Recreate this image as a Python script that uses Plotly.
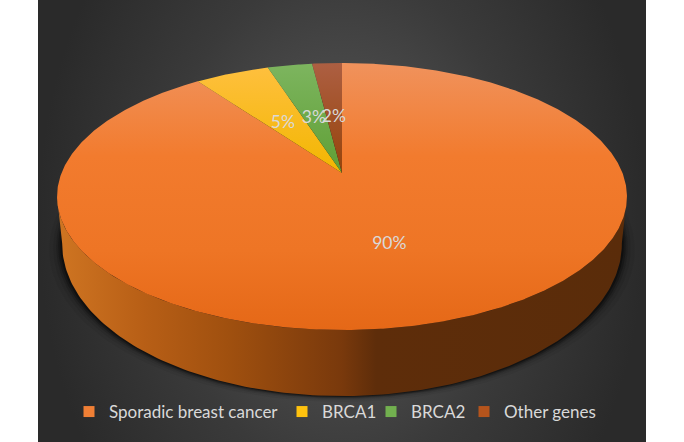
import numpy as np
import plotly.graph_objects as go

categories = ["Sporadic breast cancer", "BRCA1", "BRCA2", "Other genes"]
values = [90, 5, 3, 2]
legend_colors = ["#F07F35", "#FFC20E", "#72B04F", "#B5541C"]
gradient_top = ["#F0925C", "#FFC040", "#7DB55F", "#AD5F42"]
gradient_bottom = ["#E56817", "#F2B600", "#5F9F35", "#96430A"]
label_color = "#D9D9D9"

# perspective projection of the pie disc onto the page (pixel-like axes)
CX, APEX_Y = 342.0, 173.0
A, B, K = 280.5, 129.4, 0.176
LOWER_SX, LOWER_SY, LOWER_DY = 0.982, 1.139, 44.2
LABEL_DY = 4


def project(theta, r=1.0, lower=False):
    u = r * np.sin(theta)
    v = r * np.cos(theta)
    d = 1 + K * v
    x = A * u / d
    y = -B * v / d
    if lower:
        x, y = x * LOWER_SX, y * LOWER_SY + LOWER_DY
    return CX + x, APEX_Y + y


def grad(kind, stops, start=None, stop=None):
    g = dict(type=kind, colorscale=stops)
    if start is not None:
        g.update(start=start, stop=stop)
    return g


fig = go.Figure()

# chart background (taller than the page so the top and bottom stay lighter; clipped by the axes)
fig.add_trace(go.Scatter(
    x=[38, 646, 646, 38, 38], y=[-200, -200, 642, 642, -200], mode="lines", line_width=0,
    fill="toself",
    fillgradient=grad("radial", [[0, "#5C5C5C"], [.6, "#3A3A3A"], [1, "#2A2A2A"]]),
    showlegend=False, hoverinfo="skip"))

# soft shadow under the disc
theta_all = np.linspace(0, 2 * np.pi, 361)
for grow, alpha in [(13, .05), (9, .08), (6, .14), (4, .24), (2, .36)]:
    sx, sy = project(theta_all, lower=True)
    fig.add_trace(go.Scatter(
        x=CX + (sx - CX) * (1 + grow / 280), y=sy + grow * .45, mode="lines", line_width=0,
        fill="toself", fillcolor=f"rgba(0,0,0,{alpha})", showlegend=False, hoverinfo="skip"))

# side wall (only the front of the first slice is visible)
front = np.radians(np.linspace(100, 260, 161))
tx, ty = project(front)
bx, by = project(front, lower=True)
fig.add_trace(go.Scatter(
    x=np.r_[tx, bx[::-1], tx[0]], y=np.r_[ty, by[::-1], ty[0]], mode="lines", line_width=0,
    fill="toself",
    fillgradient=grad("horizontal", [[0, "#5A2C0A"], [.44, "#5E2D0A"], [.5, "#79390C"],
                                     [.7, "#A0500F"], [.85, "#B85F16"], [1, "#CF7522"]],
                      start=627, stop=57),
    showlegend=False, hoverinfo="skip"))

# top face, one slice per value
total = sum(values)
cum = np.cumsum([0] + values) / total * 2 * np.pi
for i, name in enumerate(categories):
    t = np.linspace(cum[i], cum[i + 1], max(3, int(values[i] * 8)))
    ex, ey = project(t)
    ax, ay = project(np.array([0.0]), r=0.0)
    if i == 0:
        g = grad("vertical", [[0, gradient_top[i]], [.35, "#F27B2E"], [.7, "#EE7525"],
                              [1, gradient_bottom[i]]], start=63, stop=330)
    else:
        g = grad("vertical", [[0, gradient_top[i]], [1, gradient_bottom[i]]], start=63, stop=173)
    fig.add_trace(go.Scatter(
        x=np.r_[ax, ex, ax], y=np.r_[ay, ey, ay], mode="lines", line_width=0,
        fill="toself", fillgradient=g, showlegend=False, hoverinfo="skip"))

# data labels
mids = (cum[:-1] + cum[1:]) / 2
lx, ly = project(mids, r=0.5)
fig.add_trace(go.Scatter(
    x=lx, y=ly + LABEL_DY, mode="text", text=[f"{v}%" for v in values],
    textfont=dict(family="Lato", size=17.5, color=label_color),
    showlegend=False, hoverinfo="skip"))

# legend: one block per entry so each sits where the reference has it
LEGEND_TEXT_X = (109, 322, 411, 504)
legend_layout = {}
for i, (name, c) in enumerate(zip(categories, legend_colors)):
    key = "legend" if i == 0 else f"legend{i + 1}"
    fig.add_trace(go.Scatter(
        x=[None], y=[None], mode="markers", name=name, legend=key, showlegend=True,
        marker=dict(symbol="square", size=11, color=c)))
    legend_layout[key] = dict(
        orientation="h", x=(LEGEND_TEXT_X[i] - 40) / 684, xanchor="left",
        y=1 - 412 / 442, yanchor="middle",
        font=dict(family="Lato", size=17, color=label_color),
        bgcolor="rgba(0,0,0,0)", itemclick=False, itemdoubleclick=False)

fig.update_layout(
    width=684, height=442, margin=dict(l=0, r=0, t=0, b=0),
    paper_bgcolor="white", plot_bgcolor="rgba(0,0,0,0)",
    xaxis=dict(range=[0, 684], visible=False, fixedrange=True),
    yaxis=dict(range=[442, 0], visible=False, fixedrange=True),
    **legend_layout,
)
fig.write_html("out.html", config=dict(displayModeBar=False),
               post_script="document.body.style.margin='0';")
